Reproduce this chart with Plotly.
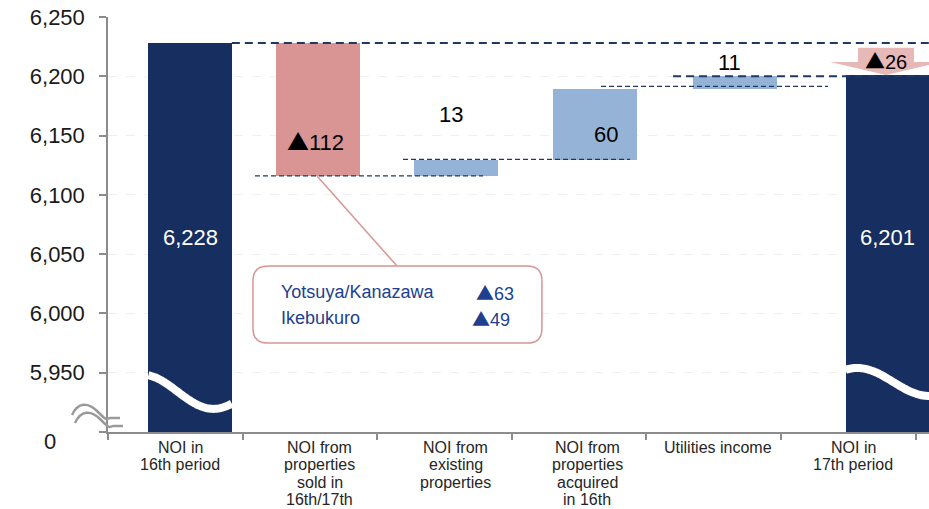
import numpy as np
import plotly.graph_objects as go

# ---- data ----
categories = ["NOI in<br>16th period",
              "NOI from<br>properties<br>sold in<br>16th/17th",
              "NOI from<br>existing<br>properties",
              "NOI from<br>properties<br>acquired<br>in 16th",
              "Utilities income",
              "NOI in<br>17th period"]
noi_16th = 6228
changes = [-112, 13, 60, 11]
noi_17th = 6201
net_change = -26
sold_names = ["Yotsuya/Kanazawa", "Ikebukuro"]
sold_values = [-63, -49]
y_tickvals = [5900, 5950, 6000, 6050, 6100, 6150, 6200, 6250]
y_ticktext = ["0", "5,950", "6,000", "6,050", "6,100", "6,150", "6,200", "6,250"]

# ---- styling ----
NAVY = "#162E60"
PINK = "#D99594"
LIGHT_PINK = "#E6B9B8"
BLUE = "#95B3D7"
LINE = "#1F3864"
AXIS = "#8C8C8C"
FONT = "Liberation Sans, Arial, sans-serif"
TRI = "<span style=\"font-family:Noto Sans CJK JP\">\u25b2</span>"
floor = 5900
W, H, L, T, B = 929, 509, 108, 17, 77
x_range = [-0.5, -0.5 + (W - L) / 134.6]
bar_w = 0.62
bar_shift = [0.11, 0.06, 0.085, 0.118, 0.158, 0.29]
tick_shift = [0.037, 0.074, 0.082, 0.059, 0.03, 0.037]


def fmt(v):
    return (TRI if v < 0 else "") + f"{abs(v):,}"


def paper(px, py):
    return (px - L) / (W - L), (H - B - py) / (H - B - T)


# waterfall geometry
bottoms, tops = [floor], [noi_16th]
level = noi_16th
for c in changes:
    lo, hi = sorted([level, level + c])
    bottoms.append(lo)
    tops.append(hi)
    level += c
bottoms.append(floor)
tops.append(noi_17th)
colors = [NAVY, PINK, BLUE, BLUE, BLUE, NAVY]
xpos = [i + s for i, s in enumerate(bar_shift)]

fig = go.Figure()
fig.add_trace(go.Bar(
    x=xpos, y=[t - b for t, b in zip(tops, bottoms)], base=bottoms,
    width=bar_w, marker=dict(color=colors, line=dict(width=0)),
    hoverinfo="skip", showlegend=False))

# white "break" waves on the full bars
for i, mid, amp, u_peak, half in [(0, 5934, 14.5, -0.08, 0.86), (5, 5942.2, 11.8, 0.14, 0.86)]:
    u = np.linspace(0, 1, 60)
    fig.add_trace(go.Scatter(
        x=xpos[i] + (u - 0.5) * bar_w,
        y=mid + amp * np.cos(np.pi * (u - u_peak) / half),
        mode="lines", line=dict(color="white", width=8, shape="spline"),
        hoverinfo="skip", showlegend=False))

shapes = []
# connector lines
thick = dict(color=LINE, width=2, dash="8px,5px")
thin = dict(color=LINE, width=1.3, dash="5px,3px")
shapes.append(dict(type="line", xref="x", yref="y", x0=xpos[0] + bar_w / 2, x1=x_range[1],
                   y0=tops[0], y1=tops[0], line=thick, layer="above"))
shapes.append(dict(type="line", xref="x", yref="y", x0=3.698, x1=x_range[1],
                   y0=tops[4], y1=tops[4], line=thick, layer="above"))
for x0, x1, yv in [(0.592, 2.286, bottoms[1]), (1.692, 3.378, tops[2] + 1), (3.163, 4.849, tops[3] + 2.5)]:
    shapes.append(dict(type="line", xref="x", yref="y", x0=x0, x1=x1, y0=yv, y1=yv,
                       line=thin, layer="above"))

# callout box and leader
cx0, cx1, cy0, cy1, rx, ry = 0.577, 2.724, 5975, 6040, 0.11, 12.6
shapes.append(dict(type="line", xref="x", yref="y", x0=1.053, y0=bottoms[1], x1=1.647, y1=cy1,
                   line=dict(color=PINK, width=1.5), layer="above"))
box = (f"M {cx0 + rx},{cy1} L {cx1 - rx},{cy1} Q {cx1},{cy1} {cx1},{cy1 - ry} "
       f"L {cx1},{cy0 + ry} Q {cx1},{cy0} {cx1 - rx},{cy0} L {cx0 + rx},{cy0} "
       f"Q {cx0},{cy0} {cx0},{cy0 + ry} L {cx0},{cy1 - ry} Q {cx0},{cy1} {cx0 + rx},{cy1} Z")
shapes.append(dict(type="path", xref="x", yref="y", path=box, fillcolor="white",
                   line=dict(color=PINK, width=1.5), layer="above"))

# down arrow on the last bar
ax, sw, hw = 5.28, 0.208, 0.416
a_top, a_head = noi_16th - 4, noi_17th + 11
arrow = (f"M {ax - sw},{a_top} L {ax + sw},{a_top} L {ax + sw},{a_head} L {ax + hw},{a_head} "
         f"L {ax},{noi_17th} L {ax - hw},{a_head} L {ax - sw},{a_head} Z")
shapes.append(dict(type="path", xref="x", yref="y", path=arrow, fillcolor=LIGHT_PINK,
                   line=dict(width=0), layer="above"))

# axis break symbol
for dx, dy in [(0, 0), (3, 8)]:
    pts = [(72, 415), (78, 402), (88, 402), (97, 411), (106, 420), (110, 418), (120, 418)]
    p = [paper(x + dx, y + dy) for x, y in pts]
    path = (f"M {p[0][0]},{p[0][1]} C {p[1][0]},{p[1][1]} {p[2][0]},{p[2][1]} {p[3][0]},{p[3][1]} "
            f"S {p[4][0]},{p[4][1]} {p[5][0]},{p[5][1]} L {p[6][0]},{p[6][1]}")
    shapes.append(dict(type="path", xref="paper", yref="paper", path=path,
                       line=dict(color="#9A9A9A", width=2.5), layer="above"))

annotations = []
# value labels
annotations.append(dict(x=xpos[0], y=(tops[0] + floor) / 2, text=fmt(noi_16th),
                        font=dict(color="white", size=22)))
annotations.append(dict(x=xpos[5], y=(tops[0] + floor) / 2, text=fmt(noi_17th),
                        font=dict(color="white", size=22)))
for i, (c, ys, xs) in enumerate(zip(changes, [36, 46, -45, 14], [-2, -5, 11, -5])):
    ref = bottoms[1] if i == 0 else tops[i + 1]
    annotations.append(dict(x=xpos[i + 1], y=ref, yshift=ys, xshift=xs, text=fmt(c),
                            font=dict(color="black", size=22)))
annotations.append(dict(x=ax, y=noi_17th + 12, text=fmt(net_change),
                        font=dict(color="black", size=20)))
# callout text
for j, (n, v) in enumerate(zip(sold_names, sold_values)):
    yv = 6018 - j * 22
    annotations.append(dict(x=0.77, y=yv, text=n, xanchor="left",
                            font=dict(color="#213F8F", size=18)))
    annotations.append(dict(x=2.53 - j * 0.03, y=yv, text=fmt(v), xanchor="right",
                            font=dict(color="#213F8F", size=18)))
for a in annotations:
    a.update(xref="x", yref="y", showarrow=False)
# category labels, one annotation per line for tight line spacing
for i, (cat, s) in enumerate(zip(categories, tick_shift)):
    for k, part in enumerate(cat.split("<br>")):
        annotations.append(dict(x=i + s, y=0, xref="x", yref="paper", yanchor="middle",
                                yshift=-(15 + 17.6 * k), text=part, showarrow=False,
                                font=dict(size=16, color="#262626")))
# the broken-axis "0" label sits lower and further left than the other ticks
zx, zy = paper(50, 441)
annotations.append(dict(x=zx, y=zy, xref="paper", yref="paper", text=y_ticktext[0],
                        xanchor="center", yanchor="middle",
                        showarrow=False, font=dict(size=22, color="#1A1A1A")))
for a in annotations:
    a["font"]["family"] = FONT

fig.update_layout(
    width=W, height=H, margin=dict(l=L, r=0, t=T, b=B, autoexpand=False),
    plot_bgcolor="white", paper_bgcolor="white",
    font=dict(family=FONT, color="#1A1A1A"),
    shapes=shapes, annotations=annotations, bargap=0,
    xaxis=dict(range=x_range, showticklabels=False, automargin=False,
               ticks="", showgrid=False, zeroline=False,
               showline=True, linecolor=AXIS, linewidth=2,
               minor=dict(tickmode="array", tickvals=[i - 0.5 for i in range(7)],
                          ticks="outside", ticklen=6, tickcolor=AXIS, tickwidth=2,
                          showgrid=False)),
    yaxis=dict(range=[floor, 6250], tickmode="array", tickvals=y_tickvals,
               ticktext=[""] + y_ticktext[1:],
               automargin=False,
               ticks="outside", ticklen=7, tickcolor=AXIS, tickwidth=1.5,
               showline=True, linecolor=AXIS, linewidth=1.5, zeroline=False,
               showgrid=True, gridcolor="#EFEFEF", griddash="dash", gridwidth=1,
               tickfont=dict(size=22, color="#1A1A1A"), ticklabelstandoff=10),
)

fig.write_html("out.html", config={"displayModeBar": False},
               post_script="document.body.style.margin='0';document.body.style.overflow='hidden';")
